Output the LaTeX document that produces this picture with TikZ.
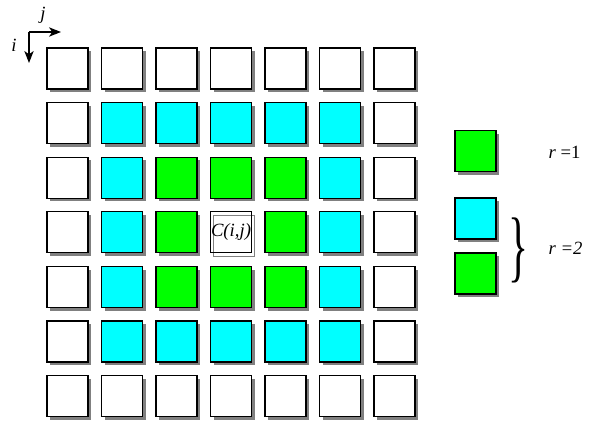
\documentclass[tikz,border=0pt]{standalone}
\usepackage{fontspec}
\setmainfont{Liberation Serif}
\usetikzlibrary{shadows,arrows.meta}
\definecolor{ringone}{RGB}{0,255,0}
\definecolor{ringtwo}{RGB}{0,255,255}

\begin{document}
\begin{tikzpicture}[
  x=0.75pt, y=-0.75pt,
  cell/.style={
    draw=black,
    line width=0.8pt,
    fill=#1,
    minimum size=30.75pt,
    inner sep=0pt,
    drop shadow={shadow xshift=2.4pt, shadow yshift=-2.4pt, fill=black!50, opacity=1}
  },
  centre/.style={
    draw=#1,
    line width=0.5pt,
    minimum size=30.75pt,
    inner sep=0pt
  },
  axis/.style={-{Stealth[length=9pt, width=7pt, inset=2.5pt]}, line width=0.9pt},
  lbl/.style={font=\fontsize{14}{16}\selectfont},
  ilbl/.style={font=\fontsize{14}{16}\selectfont\itshape}
]
\useasboundingbox (0,0) rectangle (592,421);

% -------- Axes --------
\coordinate (o) at (29,32);
\coordinate (je) at (61,32);
\coordinate (ie) at (29,63);
\draw[axis] (o) -- (je);
\draw[axis] (o) -- (ie);
\node[ilbl] (jl) at (43,15) {j};
\node[ilbl] (il) at (14,45) {i};

% -------- Grid of cells --------
\foreach \i in {0,...,6}
  \foreach \j in {0,...,6}{
    \pgfmathtruncatemacro{\ring}{max(abs(\i-3),abs(\j-3))}
    \ifnum\ring>0
      \ifcase\ring\or\def\cellcol{ringone}\or\def\cellcol{ringtwo}\else\def\cellcol{white}\fi
      \node[cell=\cellcol] (c\i\j) at (67.5+54.5*\j, 68.5+54.6*\i) {};
    \fi
  }

% -------- Centre cell --------
\node[centre=black!50] (c33s) at (234.2,235.5) {};
\node[centre=black, ilbl] (c33) at (231,232.3) {C(i,j)};

% -------- Legend --------
\node[cell=ringone] (ka) at (475.5,151) {};
\node[cell=ringtwo] (kb) at (475.5,218.5) {};
\node[cell=ringone] (kc) at (475.5,273.5) {};
\node[inner sep=0pt] (br) at (518,250.5) {\resizebox{15pt}{41pt}{\}}};
\node[lbl, anchor=west] (ra) at (544,152) {\textit{r} =1};
\node[lbl, anchor=west] (rb) at (544,248) {\textit{r =2}};

\end{tikzpicture}
\end{document}
